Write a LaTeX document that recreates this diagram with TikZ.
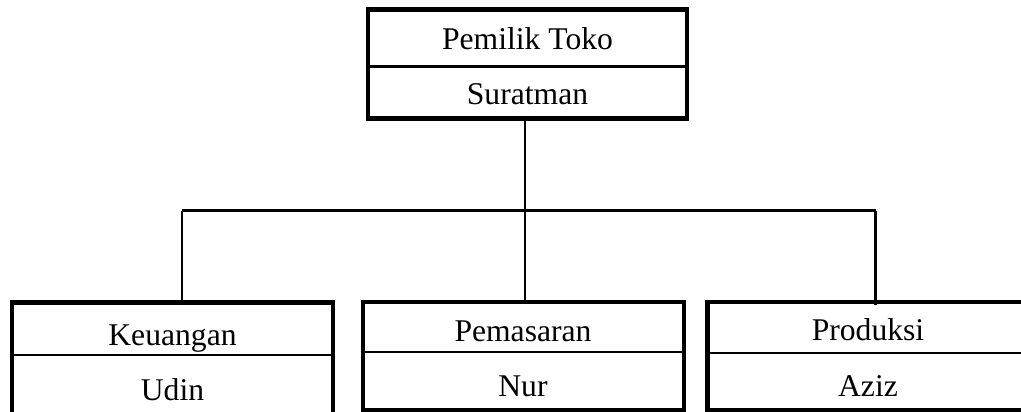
\documentclass[tikz,border=0pt]{standalone}
\usepackage{fontspec}
\setmainfont{Liberation Serif}
\usepackage{tikz}
\usetikzlibrary{positioning,calc}

\tikzset{
    kotak/.style={draw, line width=2.4pt, inner sep=0pt, minimum width=6.42cm, minimum height=2.16cm},
    sekat/.style={line width=1.3pt},
    garis/.style={line width=1.2pt},
    teks/.style={anchor=base, inner sep=0pt, font=\fontsize{18}{22}\selectfont}
}

\begin{document}
\begin{tikzpicture}[x=0.02cm, y=-0.02cm]
    \useasboundingbox (0,0) rectangle (1021,412);

    % Draw boxes
    \node[kotak, minimum width=6.38cm, minimum height=2.18cm] (pemilik) at (527.5,64) {};
    \node[kotak, minimum height=2.23cm] (keuangan) at (172.5,358.3) {};
    \node[kotak] (pemasaran) at (523.3,356) {};
    \node[kotak] (produksi) at (868,356) {};

    % Lines between title and name
    \foreach \kotak/\y in {pemilik/66.5, keuangan/355, pemasaran/352, produksi/353}
        \draw[sekat] (\kotak.west |- 0,\y) -- (\kotak.east |- 0,\y);

    % Labels
    \node[teks] (judulPemilik) at (527.5,50) {Pemilik Toko};
    \node[teks] (namaPemilik) at (527.5,105) {Suratman};
    \node[teks] (judulKeuangan) at (172.5,345) {Keuangan};
    \node[teks] (namaKeuangan) at (172.5,400) {Udin};
    \node[teks] (judulPemasaran) at (523,341.7) {Pemasaran};
    \node[teks] (namaPemasaran) at (523,396.7) {Nur};
    \node[teks] (judulProduksi) at (868,340) {Produksi};
    \node[teks] (namaProduksi) at (868,396.7) {Aziz};

    % Connectors
    \coordinate (cabangKiri) at (182,210.5);
    \coordinate (cabangTengah) at (525,210.5);
    \coordinate (cabangKanan) at (875.5,210.5);
    \draw[garis] (cabangTengah |- pemilik.south) -- (cabangTengah |- pemasaran.north);
    \draw[garis] (cabangKiri) -- (cabangKanan);
    \draw[garis] (cabangKiri) -- ([yshift=-0.1cm]cabangKiri |- keuangan.north);
    \draw[garis] (cabangKanan) -- ([yshift=-0.1cm]cabangKanan |- produksi.north);
\end{tikzpicture}
\end{document}
